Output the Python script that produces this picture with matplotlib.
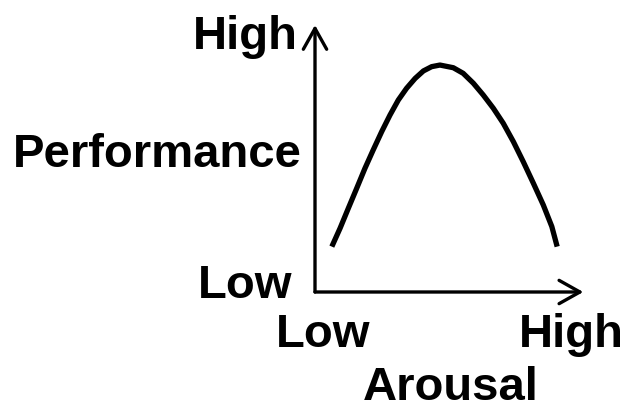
import matplotlib
matplotlib.use("Agg")
import matplotlib.pyplot as plt

# Curve (arousal 0..10, performance 0..10)
arousal = [0.63, 0.94, 1.25, 1.56, 1.87, 2.18, 2.50, 2.81, 3.12, 3.43, 3.75, 4.06,
           4.37, 4.68, 5.18, 5.55, 5.93, 6.30, 6.68, 7.05, 7.43, 7.80, 8.18, 8.55,
           8.87, 9.07]
performance = [1.70, 2.39, 3.14, 3.88, 4.63, 5.32, 6.01, 6.63, 7.19, 7.63, 8.00, 8.28,
               8.44, 8.50, 8.40, 8.19, 7.82, 7.38, 6.88, 6.32, 5.63, 4.88, 4.07, 3.26,
               2.45, 1.70]

y_labels = ["Low", "High"]
x_labels = ["Low", "High"]
x_title = "Arousal"
y_title = "Performance"

W, H = 626, 412
fig = plt.figure(figsize=(W / 100, H / 100), dpi=100)
ax = fig.add_axes([0, 0, 1, 1])
ox, oy, s = 315, 292, 26.7  # origin pixel and px per unit
ax.set_xlim(-ox / s, (W - ox) / s)
ax.set_ylim(-(H - oy) / s, oy / s)
ax.axis("off")

ax.plot(arousal, performance, color="black", lw=3.8, solid_capstyle="butt",
        solid_joinstyle="round")

arrow = dict(arrowstyle="->,head_length=0.75,head_width=0.42", lw=2.4,
             color="black", mutation_scale=20, shrinkA=0, shrinkB=0)
ax.annotate("", xy=(0, 10.0), xytext=(0, 0), arrowprops=arrow)
ax.annotate("", xy=(10.05, 0), xytext=(0, 0), arrowprops=arrow)

font = dict(family="Liberation Sans", fontweight="bold", fontsize=34, color="black")

def ftext(px, py, txt, ha):
    fig.text(px / W, 1 - py / H, txt, ha=ha, va="baseline", **font)

ftext(298, 49, y_labels[1], "right")
ftext(302, 167, y_title, "right")
ftext(292, 298, y_labels[0], "right")
ftext(323.5, 347, x_labels[0], "center")
ftext(571, 347, x_labels[1], "center")
ftext(451, 400, x_title, "center")

fig.savefig("out.png", dpi=100)
